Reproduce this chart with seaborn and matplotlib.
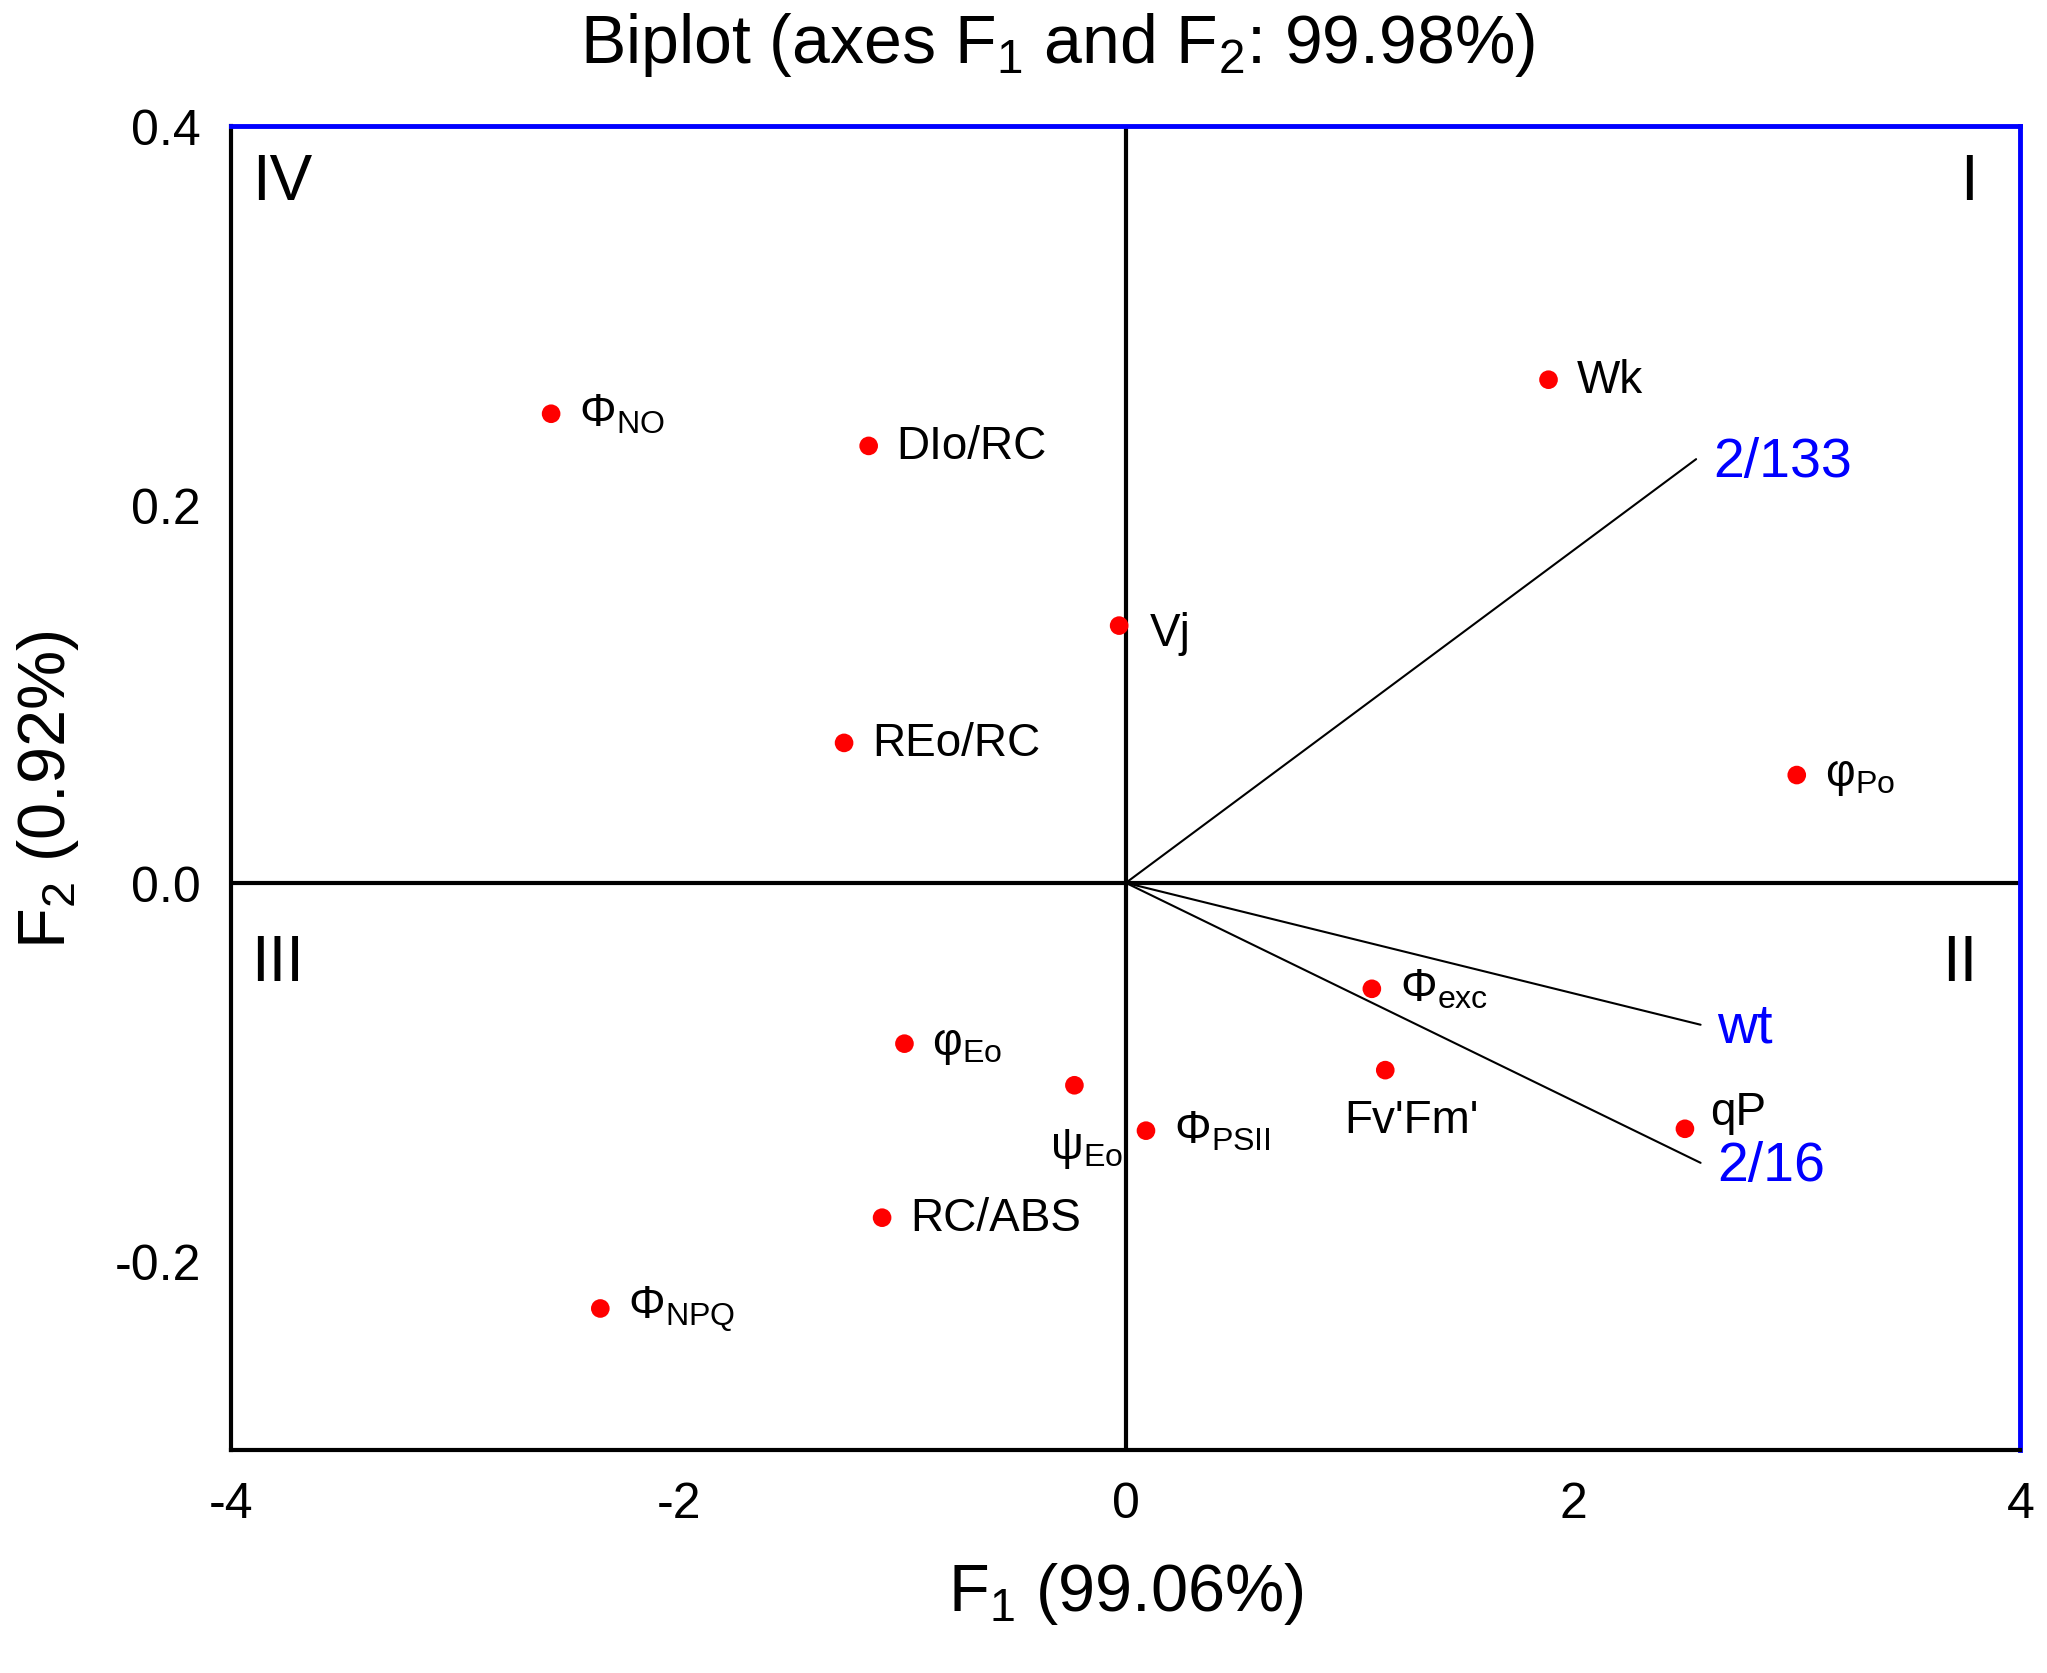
import seaborn as sns
import matplotlib.pyplot as plt
import pandas as pd

labels = [r'Φ$_{\mathregular{NO}}$', 'DIo/RC', 'Wk', 'Vj', 'REo/RC', r'φ$_{\mathregular{Po}}$',
          r'Φ$_{\mathregular{exc}}$', r'φ$_{\mathregular{Eo}}$', r'ψ$_{\mathregular{Eo}}$', "Fv'Fm'",
          r'Φ$_{\mathregular{PSII}}$', 'qP', 'RC/ABS', r'Φ$_{\mathregular{NPQ}}$']
f1 = [-2.57, -1.15, 1.89, -0.03, -1.26, 3.00, 1.10, -0.99, -0.23, 1.16, 0.09, 2.50, -1.09, -2.35]
f2 = [0.248, 0.231, 0.266, 0.136, 0.074, 0.057, -0.056, -0.085, -0.107, -0.099, -0.131, -0.130, -0.177, -0.225]

# variable vectors
vec_names = ['2/133', 'wt', '2/16']
vec_f1 = [2.55, 2.57, 2.57]
vec_f2 = [0.224, -0.075, -0.148]

# label offsets in points (x, y) and alignment
offsets = {
    r'ψ$_{\mathregular{Eo}}$': ((35, -45), 'right'),
    "Fv'Fm'": ((19, -36), 'center'),
    'qP': ((18, 12), 'left'),
    'Vj': ((22, -5), 'left'),
}

sns.set_style('white')
plt.rcParams['font.family'] = ['Liberation Sans', 'DejaVu Sans']
plt.rcParams['mathtext.fontset'] = 'custom'
plt.rcParams['mathtext.rm'] = 'Liberation Sans'
plt.rcParams['mathtext.it'] = 'Liberation Sans'
plt.rcParams['axes.unicode_minus'] = False
plt.rcParams['text.color'] = 'black'
plt.rcParams['axes.labelcolor'] = 'black'
plt.rcParams['xtick.color'] = 'black'
plt.rcParams['ytick.color'] = 'black'

df = pd.DataFrame({'F1': f1, 'F2': f2, 'label': labels})

fig = plt.figure(figsize=(20.47, 16.74), dpi=100)
ax = fig.add_axes([0.113, 0.133, 0.874, 0.791])

ax.axhline(0, color='black', lw=3, zorder=1)
ax.axvline(0, color='black', lw=3, zorder=1)

for name, x, y in zip(vec_names, vec_f1, vec_f2):
    ax.plot([0, x], [0, y], color='black', lw=1.5, zorder=2)
    ax.annotate(name, (x, y), xytext=(12, -2), textcoords='offset points',
                ha='left', va='center', fontsize=40, color='#0000ff')

sns.scatterplot(data=df, x='F1', y='F2', color='#ff0000', s=180, edgecolor='none', ax=ax, zorder=3)

for lab, x, y in zip(labels, f1, f2):
    off, ha = offsets.get(lab, ((20, 0), 'left'))
    ax.annotate(lab, (x, y), xytext=off, textcoords='offset points',
                ha=ha, va='center', fontsize=33, color='black')

for q, qx, qy in [('IV', 0.0285, 0.958), ('I', 0.971, 0.958), ('III', 0.026, 0.368), ('II', 0.966, 0.368)]:
    ax.text(qx, qy, q, transform=ax.transAxes, ha='center', va='center', fontsize=46)

ax.set_xlim(-4, 4)
ax.set_ylim(-0.3, 0.4)
ax.set_xticks([-4, -2, 0, 2, 4])
ax.set_yticks([-0.2, 0.0, 0.2, 0.4])
ax.set_yticklabels(['-0.2', '0.0', '0.2', '0.4'])
ax.tick_params(axis='both', length=0, labelsize=36)
ax.tick_params(axis='x', pad=22)
ax.tick_params(axis='y', pad=22)

for side in ['left', 'bottom']:
    ax.spines[side].set_color('black')
    ax.spines[side].set_linewidth(3)
for side in ['top', 'right']:
    ax.spines[side].set_color('#0000ff')
    ax.spines[side].set_linewidth(3.5)

ax.set_xlabel(r'F$_1$ (99.06%)', fontsize=48, labelpad=24)
ax.set_ylabel(r'F$_2$ (0.92%)', fontsize=48, labelpad=24)
ax.set_title(r'Biplot (axes F$_1$ and F$_2$: 99.98%)', fontsize=49, pad=46, x=0.462)

fig.savefig('out.png', dpi=100)
